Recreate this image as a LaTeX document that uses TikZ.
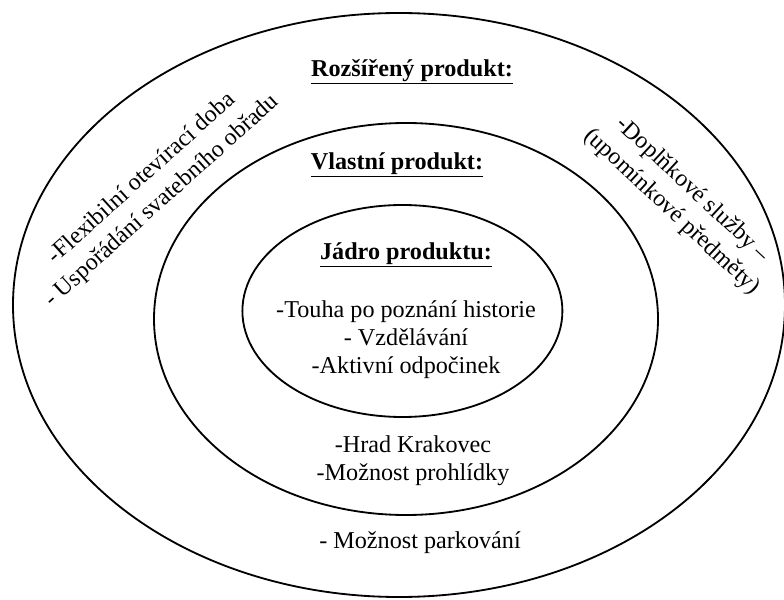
\documentclass[tikz,border=0pt]{standalone}
\usepackage{fontspec}
\setmainfont{Liberation Serif}
\begin{document}
\begin{tikzpicture}[
	ring/.style={ draw, line width=1.3pt },
	head/.style={ font=\fontsize{17.2}{20}\selectfont\bfseries, inner sep=0pt },
	item/.style={ font=\fontsize{17.2}{20}\selectfont, align=center, inner sep=0pt },
	itemr/.style={ font=\fontsize{17}{21.5}\selectfont, align=center, inner sep=0pt }
]

\useasboundingbox (0,0) rectangle (19.6,14.975);

\draw[ring] (9.975,7.35) ellipse (9.65 and 7.3);
\draw[ring] (10.15,7.0) ellipse (6.3 and 4.9);
\draw[ring] (10.06,7.2) ellipse (4.0 and 2.65);

\node at (10.3,13.175) (rozsireny) [head] {\underline{Rozšířený produkt:}};
\node at (9.925,10.85) (vlastni) [head] {\underline{Vlastní produkt:}};
\node at (10.15,8.6) (jadro) [head] {\underline{Jádro produktu:}};

\node at (10.15,6.475) (jadroitems) [item] {-Touha po poznání historie\\- Vzdělávání\\-Aktivní odpočinek};
\node at (10.325,3.45) (vlastniitems) [item] {-Hrad Krakovec\\-Možnost prohlídky};
\node at (10.5,1.4) (parkovani) [item] {- Možnost parkování};

\node at (3.8,10.225) (levy) [itemr,rotate=42] {-Flexibilní otevírací doba\\- Uspořádání svatebního obřadu};
\node at (17.05,9.95) (pravy) [itemr,rotate=-43] {-Doplňkové služby –\\(upomínkové předměty)};

\end{tikzpicture}
\end{document}
